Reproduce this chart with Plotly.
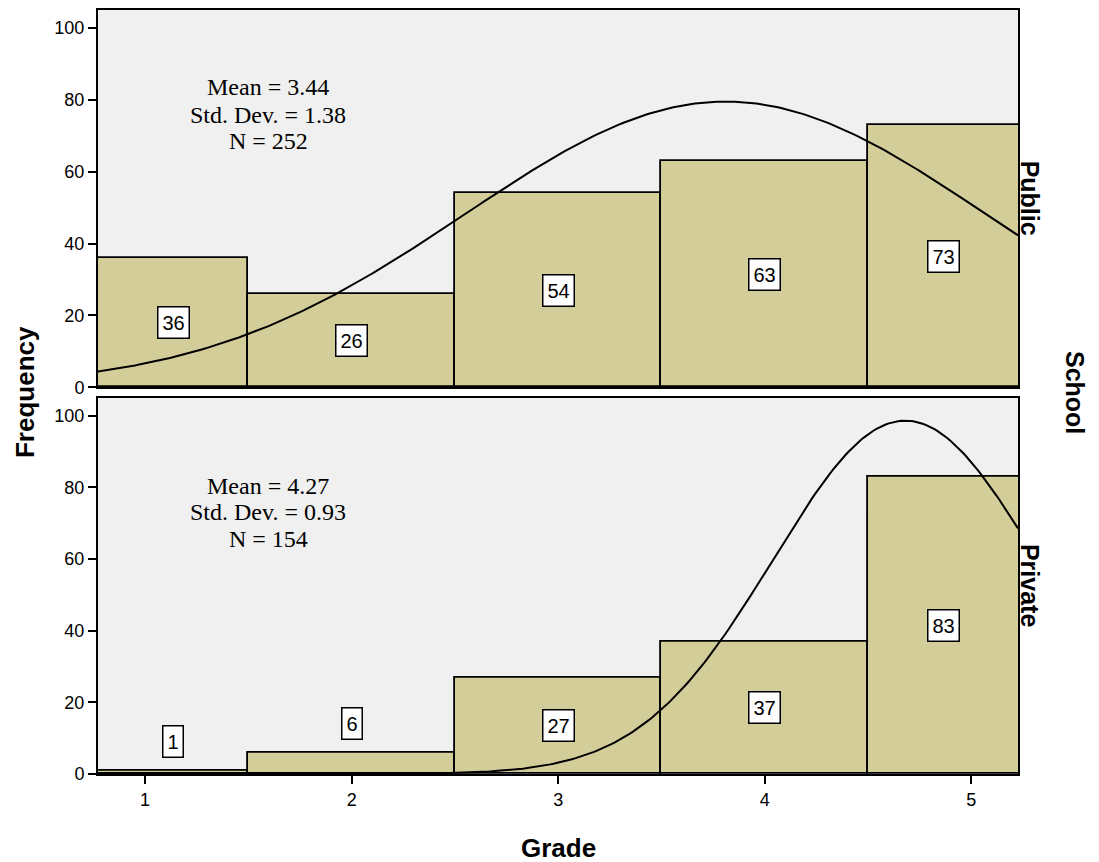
import numpy as np
import plotly.graph_objects as go
from plotly.subplots import make_subplots

# ---- data ----
grades = [1, 2, 3, 4, 5]
schools = ["Public", "Private"]
public_counts = [36, 26, 54, 63, 73]
private_counts = [1, 6, 27, 37, 83]
stat_mean = [3.44, 4.27]
stat_sd = [1.38, 0.93]
stat_n = [252, 154]
# fitted normal curve as drawn (centre, spread, peak height) in axis units
curve_center = [3.81, 4.68]
curve_spread = [1.26, 0.64]
curve_peak = [79.5, 98.6]

XMIN, XMAX = 0.772, 5.226
YMAX = 105
BAR = "#d3ce99"
BG = "#f0f0f0"
SANS = "Arial, Liberation Sans, sans-serif"
SERIF = "Times New Roman, Liberation Serif, serif"

fig = make_subplots(rows=2, cols=1, shared_xaxes=False, vertical_spacing=0.0144)

counts_all = [public_counts, private_counts]
xs = np.linspace(XMIN, XMAX, 300)
for i, counts in enumerate(counts_all):
    r = i + 1
    fig.add_trace(go.Bar(x=grades, y=counts, width=1,
                         marker=dict(color=BAR, line=dict(color="black", width=1.8)),
                         showlegend=False, hoverinfo="skip"), row=r, col=1)
    ys = curve_peak[i] * np.exp(-((xs - curve_center[i]) ** 2) / (2 * curve_spread[i] ** 2))
    fig.add_trace(go.Scatter(x=xs, y=ys, mode="lines", line=dict(color="black", width=2),
                             showlegend=False, hoverinfo="skip"), row=r, col=1)
    # value labels
    xref = "x" if r == 1 else "x2"
    yref = "y" if r == 1 else "y2"
    for g, v in zip(grades, counts):
        lo = max(g - 0.5, XMIN)
        hi = min(g + 0.5, XMAX)
        ypos = v / 2 if v >= 10 else v + 8
        fig.add_annotation(x=(lo + hi) / 2, y=ypos, xref=xref, yref=yref,
                           xanchor="center", yanchor="middle",
                           text=str(v), showarrow=False,
                           font=dict(family=SANS, size=20, color="black"),
                           bgcolor="white", bordercolor="black", borderwidth=1.5, borderpad=4)

# stats text
stat_y = [[0.8995, 0.863, 0.829], [0.377, 0.3424, 0.3077]]
for i in range(2):
    lines = [f"Mean = {stat_mean[i]:.2f}", f"Std. Dev. = {stat_sd[i]:.2f}", f"N = {stat_n[i]}"]
    for line, yy in zip(lines, stat_y[i]):
        fig.add_annotation(x=0.1848, y=yy, xref="paper", yref="paper", text=line,
                           xanchor="center", yanchor="middle",
                           showarrow=False, font=dict(family=SERIF, size=24, color="black"))

# facet labels
dom_top = [0.5063, 1.0]
dom_bot = [0.0, 0.4925]
for name, dom in zip(schools, [dom_top, dom_bot]):
    fig.add_annotation(x=1.013, y=(dom[0] + dom[1]) / 2, xref="paper", yref="paper",
                       xanchor="center", yanchor="middle",
                       text=f"<b>{name}</b>", textangle=90, showarrow=False,
                       font=dict(family=SANS, size=25, color="black"))
fig.add_annotation(x=1.062, y=0.5, xref="paper", yref="paper", text="<b>School</b>",
                   xanchor="center", yanchor="middle",
                   textangle=90, showarrow=False, font=dict(family=SANS, size=25, color="black"))
fig.add_annotation(x=-0.0793, y=0.5, xref="paper", yref="paper", text="<b>Frequency</b>",
                   xanchor="center", yanchor="middle",
                   textangle=-90, showarrow=False, font=dict(family=SANS, size=26, color="black"))
fig.add_annotation(x=0.5, y=-0.0966, xref="paper", yref="paper", text="<b>Grade</b>",
                   xanchor="center", yanchor="middle",
                   showarrow=False, font=dict(family=SANS, size=26, color="black"))

axis_common = dict(showline=True, linecolor="black", linewidth=2, mirror=True,
                   showgrid=False, zeroline=False)
fig.update_xaxes(range=[XMIN, XMAX], **axis_common)
fig.update_xaxes(showticklabels=False, ticks="", row=1, col=1)
fig.update_xaxes(tickvals=grades, ticktext=[str(g) for g in grades], ticks="outside",
                 ticklen=8, tickwidth=2, tickcolor="black",
                 tickfont=dict(family=SANS, size=18, color="black"), row=2, col=1)
fig.update_yaxes(range=[0, YMAX], tickvals=[0, 20, 40, 60, 80, 100], ticks="outside",
                 ticklen=8, tickwidth=2, tickcolor="black",
                 tickfont=dict(family=SANS, size=18, color="black"), **axis_common)
fig.update_layout(yaxis=dict(domain=dom_top), yaxis2=dict(domain=dom_bot))

# page body has an 8px margin, so the figure is shrunk by that offset
fig.update_layout(width=1091, height=854, plot_bgcolor=BG, paper_bgcolor="white",
                  margin=dict(l=90, r=81, t=0, b=88), bargap=0, showlegend=False)

fig.write_html("out.html")
